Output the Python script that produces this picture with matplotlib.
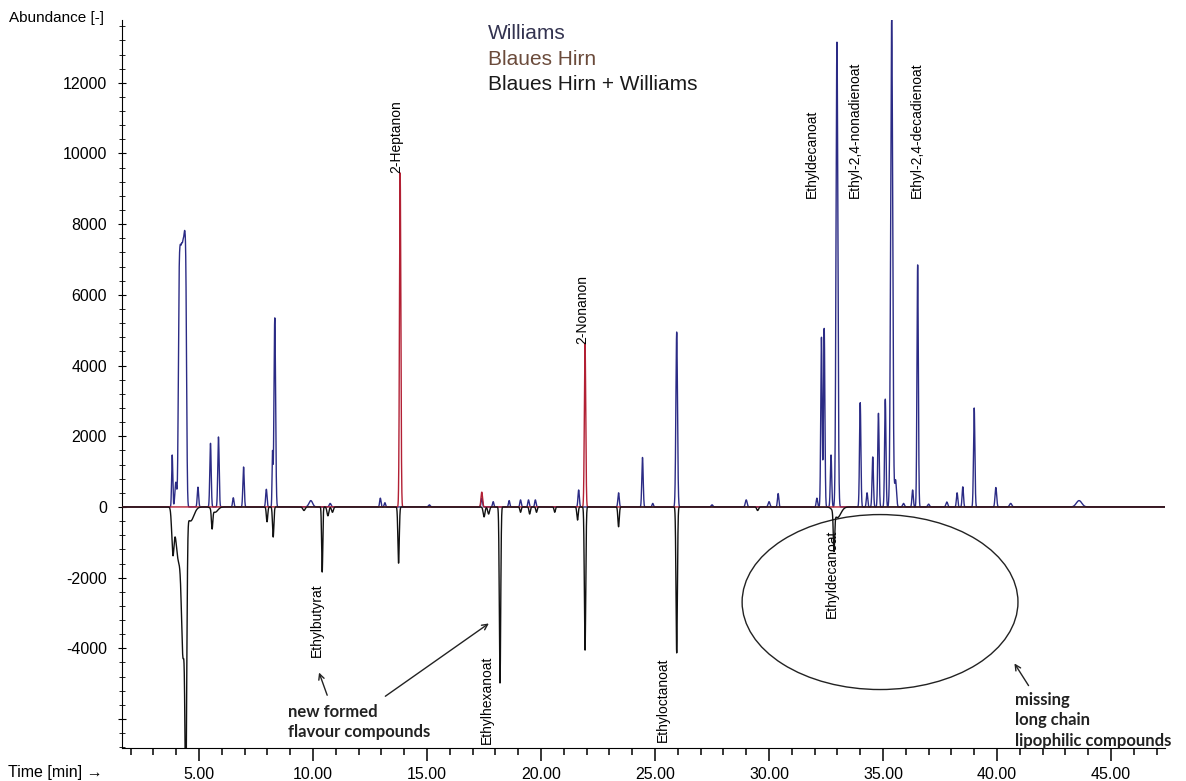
import numpy as np
import matplotlib
matplotlib.use('Agg')
import matplotlib.pyplot as plt
from matplotlib.patches import Ellipse

plt.rcParams['font.family'] = ['Liberation Sans', 'DejaVu Sans']

# ---- peak tables (retention time [min], abundance, width) ----
williams_rt = [3.82, 3.98, 4.12, 4.18, 4.24, 4.30, 4.36, 4.42, 4.95, 5.50, 5.85, 6.50, 6.95,
               7.95, 8.22, 8.32, 9.90, 10.75, 12.95, 13.15, 15.10, 17.40, 17.90, 18.60,
               19.10, 19.45, 19.75, 21.65, 23.40, 24.45, 24.90, 25.95, 27.50, 29.00, 30.00,
               30.40, 32.10, 32.30, 32.42, 32.72, 32.98, 34.00, 34.30, 34.55, 34.80, 35.10,
               35.38, 35.55, 35.90, 36.30, 36.52, 37.00, 37.80, 38.25, 38.50, 39.00, 39.95,
               40.60, 43.60]
williams_h = [1470, 700, 5200, 5050, 5100, 5150, 5350, 5500, 560, 1800, 1980, 260, 1130,
              500, 1500, 5350, 180, 100, 250, 120, 60, 250, 150, 180,
              200, 200, 200, 480, 400, 1400, 100, 4950, 60, 200, 150,
              380, 250, 4800, 5050, 1470, 13150, 2950, 400, 1415, 2650, 3050,
              13800, 760, 100, 480, 6850, 80, 140, 400, 570, 2800, 550,
              100, 180]
williams_w = [0.025, 0.04, 0.035, 0.035, 0.035, 0.035, 0.035, 0.035, 0.03, 0.03, 0.03, 0.03, 0.03,
              0.03, 0.02, 0.035, 0.08, 0.04, 0.03, 0.03, 0.04, 0.03, 0.03, 0.03,
              0.03, 0.03, 0.03, 0.03, 0.03, 0.03, 0.03, 0.035, 0.04, 0.04, 0.04,
              0.03, 0.03, 0.03, 0.03, 0.03, 0.04, 0.03, 0.03, 0.03, 0.03, 0.03,
              0.045, 0.04, 0.04, 0.03, 0.03, 0.04, 0.04, 0.03, 0.03, 0.03, 0.035,
              0.05, 0.12]

hirn_rt = [13.82, 17.40, 21.93]
hirn_h = [9450, 420, 4640]
hirn_w = [0.03, 0.035, 0.03]

# mixture is drawn mirrored (negative)
mix_rt = [3.85, 4.10, 4.30, 4.42, 4.62, 5.57, 5.70, 7.98, 8.25, 9.60, 10.40, 10.65, 10.85,
          13.75, 17.50, 17.70, 18.20, 19.10, 19.50, 19.80, 20.60, 21.60, 21.93,
          23.40, 25.95, 29.50, 32.85, 33.00]
mix_h = [-1200, -1500, -3800, -7000, -400, -540, -150, -420, -850, -100, -1840, -250, -150,
         -1590, -280, -200, -4980, -150, -200, -150, -150, -370, -4050,
         -560, -4130, -100, -1080, -300]
mix_w = [0.05, 0.12, 0.07, 0.04, 0.15, 0.03, 0.12, 0.03, 0.03, 0.05, 0.025, 0.04, 0.04,
         0.03, 0.04, 0.04, 0.03, 0.03, 0.03, 0.03, 0.03, 0.03, 0.03,
         0.03, 0.03, 0.04, 0.03, 0.15]

xticks = [5, 10, 15, 20, 25, 30, 35, 40, 45]
yticks = [-6000, -4000, -2000, 0, 2000, 4000, 6000, 8000, 10000, 12000]

top_labels = [('2-Heptanon', 13.64, 9450), ('2-Nonanon', 21.80, 4600),
              ('Ethyldecanoat', 31.90, 8750), ('Ethyl-2,4-nonadienoat', 33.75, 8750),
              ('Ethyl-2,4-decadienoat', 36.50, 8750)]
bottom_labels = [('Ethylbutyrat', 10.18, -4250), ('Ethylhexanoat', 17.63, -6700),
                 ('Ethyloctanoat', 25.35, -6650), ('Ethyldecanoat', 32.76, -3150)]

t = np.linspace(1.62, 47.37, 30000)


def trace(rt, h, w):
    y = np.zeros_like(t)
    for c, a, s in zip(rt, h, w):
        y += a * np.exp(-0.5 * ((t - c) / s) ** 2)
    return y


fig = plt.figure(figsize=(11.86, 7.81), dpi=100)
ax = fig.add_axes([0.1029, 0.0423, 0.8794, 0.9321])

ax.plot(t, trace(williams_rt, williams_h, williams_w), color='#2b2b85', lw=1.0, zorder=2)
ax.plot(t, trace(hirn_rt, hirn_h, hirn_w), color='#b22034', lw=1.0, zorder=3)
ax.plot(t, trace(mix_rt, mix_h, mix_w), color='#111111', lw=1.0, zorder=4)

ax.set_xlim(1.62, 47.37)
ax.set_ylim(-6818, 13777)

ax.spines['top'].set_visible(False)
ax.spines['right'].set_visible(False)

ax.set_xticks(xticks)
ax.set_xticklabels(['%.2f' % v for v in xticks])
ax.set_xticks(np.arange(2, 48, 1), minor=True)
ax.set_yticks(yticks)
ax.set_yticklabels(['' if v == -6000 else str(v) for v in yticks])
ax.set_yticks(np.arange(-6800, 13800, 400), minor=True)
ax.tick_params(axis='x', which='major', length=9, width=1.1, labelsize=11.5, pad=5)
ax.tick_params(axis='x', which='minor', length=5, width=1.1)
ax.tick_params(axis='y', which='major', length=6, direction='inout', labelsize=11.5, pad=8)
ax.tick_params(axis='y', which='minor', length=4, direction='inout')

for txt, x, y in top_labels:
    ax.text(x, y, txt, rotation=90, ha='center', va='bottom', fontsize=10)
for txt, x, y in bottom_labels:
    ax.text(x, y, txt, rotation=90, ha='center', va='bottom', fontsize=10)

# legend as coloured text
ax.text(0.351, 0.982, 'Williams', transform=ax.transAxes, fontsize=15, color='#333350', va='center')
ax.text(0.351, 0.946, 'Blaues Hirn', transform=ax.transAxes, fontsize=15, color='#6b4b3b', va='center')
ax.text(0.351, 0.911, 'Blaues Hirn + Williams', transform=ax.transAxes, fontsize=15, color='#1a1a1a', va='center')

fig.text(0.008, 0.977, 'Abundance [-]', fontsize=11, va='center')
fig.text(0.007, 0.0115, 'Time [min] \u2192', fontsize=11.5, va='center')

# annotations
ann_font = dict(family=['Lato', 'DejaVu Sans'], weight='bold', fontsize=12, color='#222222')
ax.text(8.9, -6080, 'new formed\nflavour compounds', va='center', ha='left', linespacing=1.35, **ann_font)
ax.annotate('', xy=(10.22, -4610), xytext=(10.66, -5400),
            arrowprops=dict(arrowstyle='->', color='#222222', lw=1.0))
ax.annotate('', xy=(17.81, -3250), xytext=(13.07, -5400),
            arrowprops=dict(arrowstyle='->', color='#222222', lw=1.0))

ax.add_patch(Ellipse((34.87, -2690), 12.1, 4950, fill=False, ec='#222222', lw=1.0))
ax.text(40.79, -6030, 'missing\nlong chain\nlipophilic compounds', va='center', ha='left',
        linespacing=1.35, **ann_font)
ax.annotate('', xy=(40.7, -4360), xytext=(41.45, -5120),
            arrowprops=dict(arrowstyle='->', color='#222222', lw=1.0))

plt.savefig('out.png', dpi=100)
